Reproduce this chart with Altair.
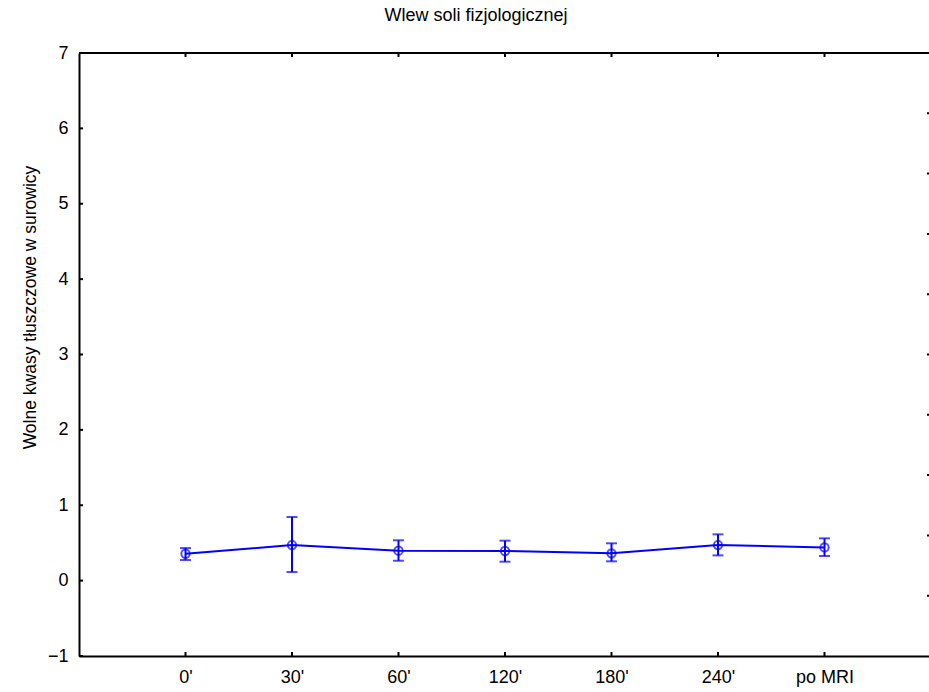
import altair as alt
import pandas as pd

categories = ["0'", "30'", "60'", "120'", "180'", "240'", "po MRI"]
means = [0.357, 0.472, 0.397, 0.393, 0.362, 0.472, 0.441]
lows = [0.273, 0.114, 0.264, 0.251, 0.256, 0.335, 0.327]
highs = [0.432, 0.844, 0.535, 0.530, 0.495, 0.614, 0.561]
y_ticks = [-1, 0, 1, 2, 3, 4, 5, 6, 7]
right_ticks = [1, 2, 3, 4, 5, 6, 7, 8, 9]

W, H = 850, 603      # visible plot area (right frame lies just beyond the window)
FULL_W = 852         # full width of the x range
BLUE = "#0000FF"
FONT = "Liberation Sans"

df = pd.DataFrame({"cat": categories, "mean": means, "lo": lows, "hi": highs})
yt = pd.DataFrame({"v": y_ticks})
rt = pd.DataFrame({"v": right_ticks})

xscale = alt.Scale(type="point", padding=1, range=[0, FULL_W])
xenc = alt.X("cat:N", sort=categories, scale=xscale,
             axis=alt.Axis(title=None, labelAngle=0, labelFontSize=18, labelFont=FONT,
                           labelColor="black", ticks=False, domain=True,
                           domainColor="black", domainWidth=2, labelPadding=12,
                           grid=False))
yscale = alt.Scale(domain=[-1, 7], nice=False, zero=False)
yenc = alt.Y("mean:Q", scale=yscale,
             axis=alt.Axis(title="Wolne kwasy tłuszczowe w surowicy", values=y_ticks,
                           format="d",
                           labelFontSize=18, labelFont=FONT, labelColor="black",
                           ticks=False, domain=True, domainColor="black", domainWidth=2,
                           grid=False, labelPadding=11,
                           titleFontSize=17.5, titleFont=FONT, titleFontWeight="normal",
                           titleColor="black", titleX=-49, titleY=254,
                           titleAngle=-90, titleAlign="center", titleBaseline="middle"))

xc = alt.X("cat:N", sort=categories, scale=xscale)

base = alt.Chart(df)
line = base.mark_line(color=BLUE, strokeWidth=2).encode(x=xenc, y=yenc)
rule = base.mark_rule(color=BLUE, strokeWidth=2).encode(
    x=xc, y=alt.Y("lo:Q", scale=yscale), y2="hi:Q")
cap_lo = base.mark_tick(color=BLUE, thickness=2, size=11).encode(
    x=xc, y=alt.Y("lo:Q", scale=yscale))
cap_hi = base.mark_tick(color=BLUE, thickness=2, size=11).encode(
    x=xc, y=alt.Y("hi:Q", scale=yscale))
pts = base.mark_point(color=BLUE, filled=False, shape="circle", size=70,
                      strokeWidth=2).encode(
    x=xc, y=alt.Y("mean:Q", scale=yscale))

bottom_ticks = base.mark_rule(color="black", strokeWidth=2).encode(
    x=xc, y=alt.value(H), y2=alt.value(H - 4))
top_ticks = base.mark_rule(color="black", strokeWidth=2).encode(
    x=xc, y=alt.value(0), y2=alt.value(4))
top_frame = base.mark_rule(color="black", strokeWidth=2).encode(
    y=alt.value(0), x=alt.value(0), x2=alt.value(W))
left_ticks = alt.Chart(yt).mark_rule(color="black", strokeWidth=2).encode(
    y=alt.Y("v:Q", scale=yscale), x=alt.value(0), x2=alt.value(4))
right_ticks_l = alt.Chart(rt).mark_rule(color="black", strokeWidth=2).encode(
    y=alt.Y("v:Q", scale=alt.Scale(domain=[0, 10], nice=False), axis=None),
    x=alt.value(FULL_W - 4), x2=alt.value(FULL_W))

main = alt.layer(line, rule, cap_lo, cap_hi, pts, bottom_ticks, top_ticks, top_frame,
                 left_ticks)
chart = alt.layer(main, right_ticks_l).resolve_scale(y="independent").properties(
    width=W, height=H,
    title=alt.TitleParams("Wlew soli fizjologicznej", fontSize=18, font=FONT,
                          fontWeight="normal", color="black", dx=-28, offset=19),
    autosize=alt.AutoSizeParams(type="none"),
    padding={"left": 79, "top": 53, "right": 0, "bottom": 36},
    background="white",
).configure_view(strokeOpacity=0)

chart.save("out.html", embed_options={"renderer": "svg", "actions": False})
